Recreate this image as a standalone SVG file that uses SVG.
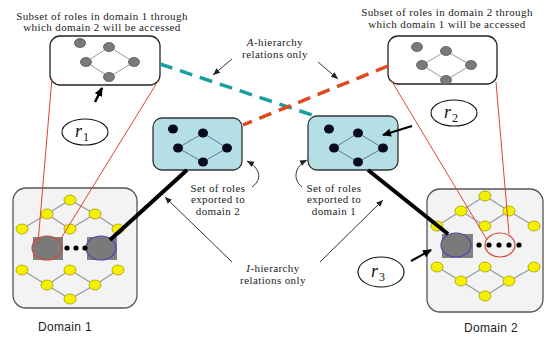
<svg xmlns="http://www.w3.org/2000/svg" width="546" height="337" viewBox="0 0 546 337">
<defs>
<marker id="ah" markerWidth="8" markerHeight="8" refX="7" refY="4" orient="auto" markerUnits="userSpaceOnUse"><path d="M0,1 L7,4 L0,7 z" fill="#222"/></marker>
<marker id="ahb" markerWidth="10" markerHeight="10" refX="8" refY="5" orient="auto" markerUnits="userSpaceOnUse"><path d="M0,1 L9,5 L0,9 z" fill="#000"/></marker>
</defs>
<style>
.cap{font-family:"Liberation Serif","Times New Roman",serif;font-size:11px;letter-spacing:0.4px;fill:#222;text-anchor:middle}
.dom{font-family:"Liberation Sans",Arial,sans-serif;font-size:12px;letter-spacing:0.3px;fill:#222;text-anchor:middle}
.r{font-family:"Liberation Serif","Times New Roman",serif;font-style:italic;font-size:18px;fill:#111}
.rs{font-family:"Liberation Serif","Times New Roman",serif;font-size:12px;fill:#111}
.sub{fill:#fff;stroke:#222;stroke-width:1.3}
.exp{fill:#b3dfe5;stroke:#333;stroke-width:1.3}
.gn{fill:#7a7a7a;stroke:#555;stroke-width:0.8}
.bn{fill:#0a0a1e}
.ge{stroke:#999;stroke-width:1;fill:none}
.be{stroke:#5a78a8;stroke-width:1;fill:none}
.yn{fill:#f5f000;stroke:#a89c00;stroke-width:0.8}
.ye{stroke:#999;stroke-width:1.2;fill:none}
.dbox{fill:#f3f3f3;stroke:#555;stroke-width:1.3}
.red{stroke:#d24a35;stroke-width:1;fill:none}
.thin{stroke:#333;stroke-width:1;fill:none}
.rel{fill:#fff;stroke:#111;stroke-width:1.1}
</style>

<g id="domain1">
<rect class="dbox" x="13" y="188" width="124" height="120" rx="13"/>
<g class="ye">
<path d="M22,229 L47,214 L70,200 L95,214 L118,229 M47,214 L70,229 L95,214"/>
<path d="M22,270 L47,285 L70,270 L95,285 L118,270 M47,285 L70,299 L95,285"/>
</g>
<g class="yn">
<ellipse cx="70" cy="200" rx="6" ry="5"/><ellipse cx="47" cy="214" rx="6" ry="5"/><ellipse cx="95" cy="214" rx="6" ry="5"/>
<ellipse cx="22" cy="229" rx="6" ry="5"/><ellipse cx="70" cy="229" rx="6" ry="5"/><ellipse cx="118" cy="229" rx="6" ry="5"/>
<ellipse cx="22" cy="270" rx="6" ry="5"/><ellipse cx="70" cy="270" rx="6" ry="5"/><ellipse cx="118" cy="270" rx="6" ry="5"/>
<ellipse cx="47" cy="285" rx="6" ry="5"/><ellipse cx="95" cy="285" rx="6" ry="5"/><ellipse cx="70" cy="299" rx="6" ry="5"/>
</g>
<rect x="33" y="237" width="30" height="23" fill="#808080"/>
<ellipse cx="47" cy="248" rx="15" ry="12" fill="#7a7a7a" stroke="#d24a35" stroke-width="1.2"/>
<rect x="87" y="237" width="30" height="23" fill="#808080"/>
<ellipse cx="101" cy="248" rx="15" ry="12" fill="#7a7a7a" stroke="#4a4ab0" stroke-width="1.2"/>
<circle cx="67" cy="248" r="2.6" fill="#000"/><circle cx="76" cy="248" r="2.6" fill="#000"/><circle cx="85" cy="248" r="2.6" fill="#000"/>
<text class="dom" x="65" y="331">Domain 1</text>
</g>

<g id="domain2">
<rect class="dbox" x="427" y="189" width="116" height="123" rx="13"/>
<g class="ye">
<path d="M437,226 L461,211 L485,196 L509,211 L534,226 M461,211 L485,226 L509,211"/>
<path d="M437,267 L461,281 L485,267 L509,281 L534,267 M461,281 L485,296 L509,281"/>
</g>
<g class="yn">
<ellipse cx="485" cy="196" rx="6" ry="5"/><ellipse cx="461" cy="211" rx="6" ry="5"/><ellipse cx="509" cy="211" rx="6" ry="5"/>
<ellipse cx="437" cy="226" rx="6" ry="5"/><ellipse cx="485" cy="226" rx="6" ry="5"/><ellipse cx="534" cy="226" rx="6" ry="5"/>
<ellipse cx="437" cy="267" rx="6" ry="5"/><ellipse cx="485" cy="267" rx="6" ry="5"/><ellipse cx="534" cy="267" rx="6" ry="5"/>
<ellipse cx="461" cy="281" rx="6" ry="5"/><ellipse cx="509" cy="281" rx="6" ry="5"/><ellipse cx="485" cy="296" rx="6" ry="5"/>
</g>
<rect x="442" y="234" width="31" height="24" fill="#808080"/>
<ellipse cx="456" cy="245" rx="15" ry="12" fill="#7a7a7a" stroke="#4a4ab0" stroke-width="1.2"/>
<circle cx="479" cy="245" r="2.6" fill="#000"/><circle cx="489" cy="245" r="2.6" fill="#000"/><circle cx="499" cy="245" r="2.6" fill="#000"/><circle cx="509" cy="245" r="2.6" fill="#000"/><circle cx="519" cy="245" r="2.6" fill="#000"/>
<ellipse cx="500" cy="245" rx="15" ry="12" fill="none" stroke="#d24a35" stroke-width="1.2"/>
<text class="dom" x="491" y="332">Domain 2</text>
</g>

<g id="subset1">
<rect class="sub" x="50" y="36" width="110" height="49" rx="10"/>
<path class="ge" d="M109,47 L86,62 L109,77 L134,62 Z"/>
<g class="gn"><ellipse cx="80" cy="43" rx="5.5" ry="4.5"/><ellipse cx="109" cy="47" rx="5.5" ry="4.5"/><ellipse cx="86" cy="62" rx="5.5" ry="4.5"/><ellipse cx="134" cy="62" rx="5.5" ry="4.5"/><ellipse cx="109" cy="77" rx="5.5" ry="4.5"/></g>
<text class="cap" x="102" y="20">Subset of roles in domain 1 through</text>
<text class="cap" x="102" y="31">which domain 2 will be accessed</text>
</g>

<g id="subset2">
<rect class="sub" x="388" y="36" width="109" height="48" rx="10"/>
<path class="ge" d="M446,51 L422,65 L446,80 L471,65 Z"/>
<g class="gn"><ellipse cx="417" cy="47" rx="5.5" ry="4.5"/><ellipse cx="446" cy="51" rx="5.5" ry="4.5"/><ellipse cx="422" cy="65" rx="5.5" ry="4.5"/><ellipse cx="471" cy="65" rx="5.5" ry="4.5"/><ellipse cx="446" cy="80" rx="5.5" ry="4.5"/></g>
<text class="cap" x="447" y="16">Subset of roles in domain 2 through</text>
<text class="cap" x="447" y="28">which domain 1 will be accessed</text>
</g>

<g id="export2">
<rect class="exp" x="153" y="118" width="89" height="52" rx="9"/>
<path class="be" d="M203,133 L178,148 L203,162 L227,148 Z"/>
<g class="bn"><ellipse cx="173" cy="129" rx="5" ry="4.5"/><ellipse cx="203" cy="133" rx="5" ry="4.5"/><ellipse cx="178" cy="148" rx="5" ry="4.5"/><ellipse cx="227" cy="148" rx="5" ry="4.5"/><ellipse cx="203" cy="162" rx="5" ry="4.5"/></g>
<text class="cap" x="218" y="192">Set of roles</text>
<text class="cap" x="218" y="203">exported to</text>
<text class="cap" x="218" y="215">domain 2</text>
</g>

<g id="export1">
<rect class="exp" x="308" y="116" width="90" height="54" rx="9"/>
<path class="be" d="M358,133 L334,148 L358,162 L383,148 Z"/>
<g class="bn"><ellipse cx="329" cy="129" rx="5" ry="4.5"/><ellipse cx="358" cy="133" rx="5" ry="4.5"/><ellipse cx="334" cy="148" rx="5" ry="4.5"/><ellipse cx="383" cy="148" rx="5" ry="4.5"/><ellipse cx="358" cy="162" rx="5" ry="4.5"/></g>
<text class="cap" x="334" y="192">Set of roles</text>
<text class="cap" x="334" y="203">exported to</text>
<text class="cap" x="334" y="215">domain 1</text>
</g>

<g id="r1"><ellipse class="rel" cx="85" cy="132" rx="23" ry="13"/><text class="r" x="75" y="137">r</text><text class="rs" x="83" y="141">1</text></g>
<g id="r2"><ellipse class="rel" cx="454" cy="113" rx="23" ry="13"/><text class="r" x="444" y="118">r</text><text class="rs" x="452" y="122">2</text></g>
<g id="r3"><ellipse class="rel" cx="381" cy="272" rx="23" ry="15"/><text class="r" x="371" y="277">r</text><text class="rs" x="379" y="281">3</text></g>

<g id="labels">
<text class="cap" x="275" y="46"><tspan font-style="italic">A</tspan>-hierarchy</text>
<text class="cap" x="275" y="58">relations only</text>
<text class="cap" x="273" y="272"><tspan font-style="italic">I</tspan>-hierarchy</text>
<text class="cap" x="273" y="284">relations only</text>
</g>

<g id="connectors">
<line x1="160" y1="64" x2="318" y2="117" stroke="#1a9e9e" stroke-width="3.5" stroke-dasharray="13,8"/>
<line x1="388" y1="66" x2="243" y2="125" stroke="#dd4a1c" stroke-width="3.5" stroke-dasharray="13,8"/>
<line x1="187" y1="170" x2="110" y2="240" stroke="#000" stroke-width="4"/>
<line x1="368" y1="170" x2="448" y2="234" stroke="#000" stroke-width="4"/>
<line class="red" x1="52" y1="78" x2="38" y2="243"/>
<line class="red" x1="158" y1="81" x2="60" y2="240"/>
<line class="red" x1="391" y1="80" x2="487" y2="240"/>
<line class="red" x1="496" y1="82" x2="509" y2="234"/>
<line class="thin" x1="232" y1="59" x2="213" y2="75" marker-end="url(#ah)"/>
<line class="thin" x1="318" y1="62" x2="338" y2="79" marker-end="url(#ah)"/>
<line class="thin" x1="232" y1="262" x2="165" y2="197" marker-end="url(#ah)"/>
<line class="thin" x1="320" y1="262" x2="383" y2="200" marker-end="url(#ah)"/>
<path class="thin" d="M252,187 C263,179 260,168 247,161" marker-end="url(#ah)"/>
<path class="thin" d="M302,187 C292,179 295,166 307,160" marker-end="url(#ah)"/>
<line x1="95" y1="102" x2="102" y2="88" stroke="#000" stroke-width="2.5" marker-end="url(#ahb)"/>
<line x1="412" y1="126" x2="383" y2="135" stroke="#000" stroke-width="2" marker-end="url(#ahb)"/>
<line x1="411" y1="261" x2="431" y2="250" stroke="#000" stroke-width="2" marker-end="url(#ahb)"/>
</g>
</svg>
